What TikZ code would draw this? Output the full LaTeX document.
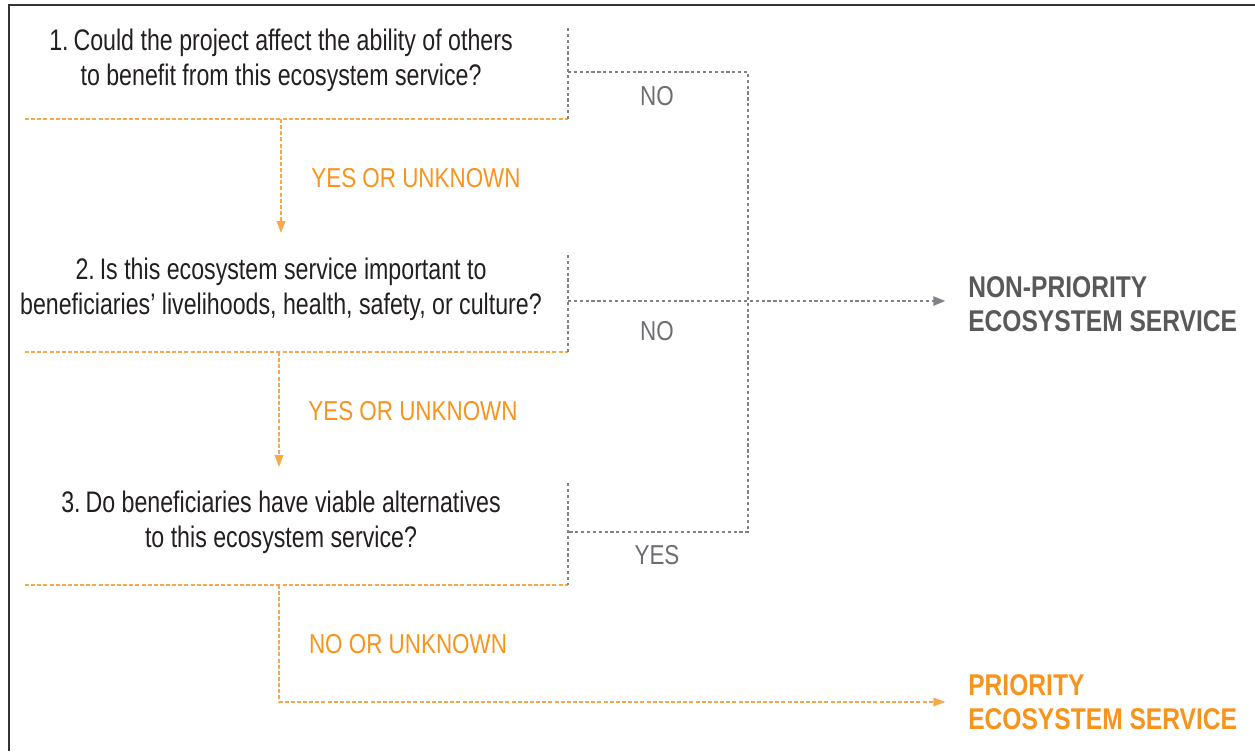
\documentclass[tikz,border=0pt]{standalone}
\usepackage{fontspec}
\setmainfont[FakeStretch=0.82]{Liberation Sans}
\newfontfamily\questionfont[FakeStretch=0.78]{Liberation Sans}
\usetikzlibrary{arrows.meta}

\definecolor{accent}{HTML}{F7941D}
\definecolor{accentline}{HTML}{F8A84C}
\definecolor{guide}{HTML}{808285}
\definecolor{labelgray}{HTML}{6D6E71}
\definecolor{headgray}{HTML}{58595B}
\definecolor{ink}{HTML}{231F20}

\tikzset{
  question/.style={inner sep=0pt, align=center, text=ink,
    font=\questionfont\fontsize{22.3}{26.5}\selectfont},
  answer/.style={inner sep=0pt, text=accent, font=\fontsize{20.5}{24}\selectfont},
  exitlabel/.style={inner sep=0pt, text=labelgray, font=\fontsize{20.5}{24}\selectfont},
  outcome/.style={inner sep=0pt, align=left, anchor=west,
    font=\bfseries\fontsize{22.5}{25.5}\selectfont},
  yesline/.style={draw=accentline, line width=1.1pt, dash pattern=on 3pt off 1.6pt},
  noline/.style={draw=guide, line width=1.1pt, dash pattern=on 2.4pt off 2pt},
  yesarrow/.style={yesline, -{Triangle[length=9pt,width=6.5pt]}},
  noarrow/.style={noline, -{Triangle[length=9pt,width=7pt]}},
  frameline/.style={draw=black!80, line width=1.5pt}
}

\begin{document}
\begin{tikzpicture}[x=0.75pt,y=-0.75pt]
\useasboundingbox (0,0) rectangle (1255,751);

% outer frame (left and top edges)
\draw[frameline] (9,751) -- (9,5) -- (1255,5);

% questions
\node[question] (q1) at (281,60) {1.\,Could the project affect the ability of others\\to benefit from this ecosystem service?};
\node[question] (q2) at (281,289) {2.\,Is this ecosystem service important to\\beneficiaries’ livelihoods, health, safety, or culture?};
\node[question] (q3) at (281,522) {3.\,Do beneficiaries have viable alternatives\\to this ecosystem service?};

% outcomes
\node[outcome, text=headgray] (np) at (968,304) {NON-PRIORITY\\ECOSYSTEM SERVICE};
\node[outcome, text=accent] (pr) at (968,702) {PRIORITY\\ECOSYSTEM SERVICE};

% box corners
\coordinate (b1l) at (25,119);  \coordinate (b1r) at (568,119); \coordinate (b1t) at (568,28);
\coordinate (b2l) at (25,352);  \coordinate (b2r) at (568,352); \coordinate (b2t) at (568,255);
\coordinate (b3l) at (25,585);  \coordinate (b3r) at (568,585); \coordinate (b3t) at (568,483);

% branch points
\coordinate (n1) at (568,72);   \coordinate (c1) at (748,72);
\coordinate (n2) at (568,301);
\coordinate (n3) at (568,532);  \coordinate (c3) at (748,532);
\coordinate (y1) at (281,119);  \coordinate (y1e) at (281,233);
\coordinate (y2) at (279,352);  \coordinate (y2e) at (279,467);
\coordinate (y3) at (279,585);  \coordinate (y3c) at (279,702);

% box edges
\draw[yesline] (b1l) -- (b1r);
\draw[noline] (b1t) -- (b1r);
\draw[yesline] (b2l) -- (b2r);
\draw[noline] (b2t) -- (b2r);
\draw[yesline] (b3l) -- (b3r);
\draw[noline] (b3t) -- (b3r);

% "no" exits to the non-priority outcome
\draw[noline] (n1) -- (c1) -- (c3) -- (n3);
\draw[noarrow, shorten >=17pt] (n2) -- (np.west |- n2);

% "yes" path downwards
\draw[yesarrow] (y1) -- (y1e);
\draw[yesarrow] (y2) -- (y2e);
\draw[yesarrow, shorten >=17pt] (y3) -- (y3c) -- (pr.west |- y3c);

% answer labels
\node[answer] (a1) at (416,178) {YES OR UNKNOWN};
\node[answer] (a2) at (413,411) {YES OR UNKNOWN};
\node[answer] (a3) at (408,644) {NO OR UNKNOWN};
\node[exitlabel] (e1) at (657,96) {NO};
\node[exitlabel] (e2) at (657,331) {NO};
\node[exitlabel] (e3) at (657,555) {YES};
\end{tikzpicture}
\end{document}
